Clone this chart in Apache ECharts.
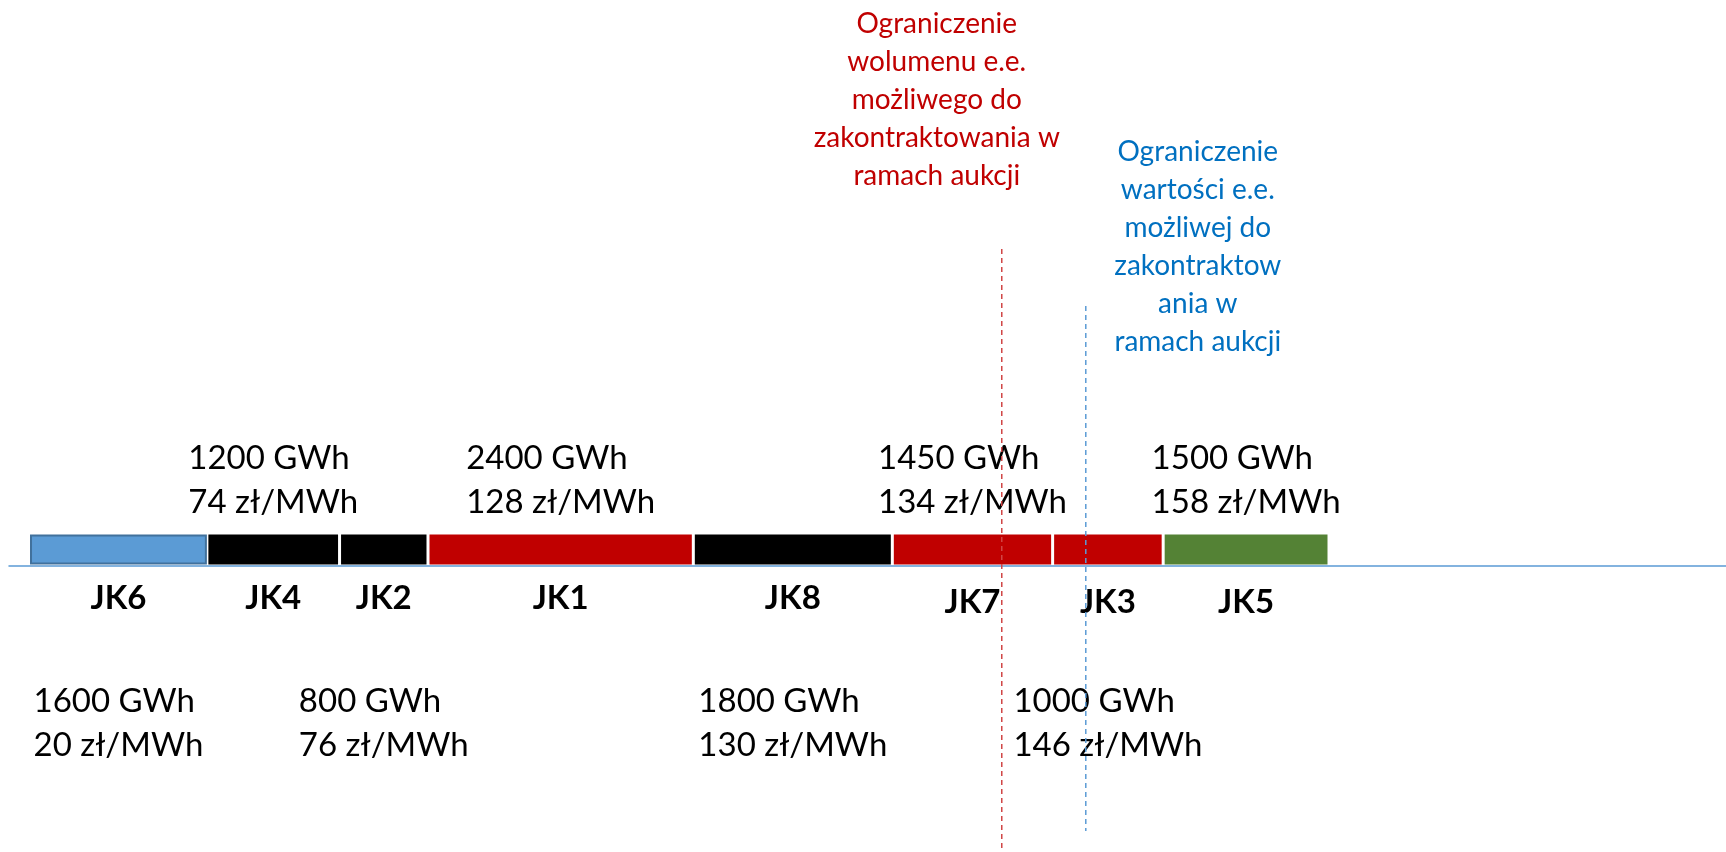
<!DOCTYPE html>
<html>
<head>
<meta charset="utf-8">
<script src="https://cdn.jsdelivr.net/npm/echarts@6/dist/echarts.min.js"></script>
<style>
  html, body { margin: 0; padding: 0; background: #fff; }
  #chart { width: 1726px; height: 852px; }
</style>
</head>
<body>
<div id="chart"></div>
<script>
// jednostki w kolejności ceny (merit order)
const units = ['JK6', 'JK4', 'JK2', 'JK1', 'JK8', 'JK7', 'JK3', 'JK5'];
const volumeGWh = [1600, 1200, 800, 2400, 1800, 1450, 1000, 1500];
const priceZl = [20, 74, 76, 128, 130, 134, 146, 158];

// ograniczenia aukcji (położenie na osi wolumenu, GWh)
const limitTexts = [
  'Ograniczenie\nwolumenu e.e.\nmożliwego do\nzakontraktowania w\nramach aukcji',
  'Ograniczenie\nwartości e.e.\nmożliwej do\nzakontraktow\nania w\nramach aukcji',
];
const limitAtGWh = [8790, 9550];

// style
const unitColors = ['#5B9BD5', '#000000', '#000000', '#C00000', '#000000', '#C00000', '#C00000', '#548235'];
const limitStyle = [
  { color: '#C00000', line: '#D04545', top: 249, bottom: 852, textDx: -65, textTop: 5 },
  { color: '#0070C0', line: '#5B9BD5', top: 306, bottom: 831, textDx: 112, textTop: 133 },
];
const FONT = 'Lato';

// pomiar szerokości tekstu (blok wyrównany do lewej, wyśrodkowany nad segmentem)
const measureCtx = document.createElement('canvas').getContext('2d');
function textWidth(str, size) {
  measureCtx.font = size + 'px ' + FONT;
  return Math.max(...str.split('\n').map((s) => measureCtx.measureText(s).width));
}

// skumulowane przedziały wolumenu
const segData = [];
let acc = 0;
volumeGWh.forEach((v, i) => {
  segData.push([acc, acc + v, i]);
  acc += v;
});

function renderUnit(params, api) {
  const i = params.dataIndex;
  const a = api.coord([api.value(0), 0]);
  const b = api.coord([api.value(1), 0]);
  const base = a[1];
  const cx = (a[0] + b[0]) / 2;
  const isFirst = i === 0;
  const label = volumeGWh[i] + ' GWh\n' + priceZl[i] + ' zł/MWh';
  const w = textWidth(label, 33);
  return {
    type: 'group',
    children: [
      {
        type: 'rect',
        shape: {
          x: a[0] + (isFirst ? 1 : 1.5),
          y: base - (isFirst ? 30.5 : 31.5),
          width: b[0] - a[0] - (isFirst ? 2 : 3),
          height: isFirst ? 28 : 30,
        },
        style: {
          fill: unitColors[i],
          stroke: isFirst ? '#41719C' : null,
          lineWidth: 2,
        },
      },
      {
        type: 'text',
        x: cx,
        y: i > 4 ? 602 : 598,
        style: {
          text: units[i],
          fontFamily: FONT,
          fontWeight: 'bold',
          fontSize: 33,
          fill: '#000',
          align: 'center',
          verticalAlign: 'middle',
        },
      },
      {
        type: 'text',
        x: cx - w / 2,
        y: i % 2 ? 480 : 723,
        style: {
          text: label,
          fontFamily: FONT,
          fontSize: 33,
          lineHeight: 44,
          fill: '#000',
          align: 'left',
          verticalAlign: 'middle',
        },
      },
    ],
  };
}

function renderLimit(params, api) {
  const i = params.dataIndex;
  const p = api.coord([api.value(0), 0]);
  const st = limitStyle[i];
  return {
    type: 'group',
    children: [
      {
        type: 'line',
        shape: { x1: p[0], y1: st.top, x2: p[0], y2: st.bottom },
        style: { stroke: st.line, lineWidth: 1.5, lineDash: [5, 4] },
      },
      {
        type: 'text',
        x: p[0] + st.textDx,
        y: st.textTop,
        style: {
          text: limitTexts[i],
          fontFamily: FONT,
          fontSize: 28,
          lineHeight: 38,
          fill: st.color,
          align: 'center',
          verticalAlign: 'top',
        },
      },
    ],
  };
}

const chart = echarts.init(document.getElementById('chart'));
chart.setOption({
  backgroundColor: '#fff',
  animation: false,
  grid: { left: 9, right: 0, top: 0, bottom: 286 },
  xAxis: {
    type: 'value',
    min: -190,
    max: 15341,
    axisLine: { show: true, lineStyle: { color: '#5B9BD5', width: 1.5 } },
    axisTick: { show: false },
    axisLabel: { show: false },
    splitLine: { show: false },
  },
  yAxis: { type: 'value', min: 0, max: 1, show: false },
  series: [
    {
      type: 'custom',
      clip: false,
      renderItem: renderUnit,
      data: segData,
      encode: { x: [0, 1] },
      z: 2,
    },
    {
      type: 'custom',
      clip: false,
      renderItem: renderLimit,
      data: limitAtGWh.map((v) => [v]),
      encode: { x: 0 },
      z: 3,
    },
  ],
});
</script>
</body>
</html>
